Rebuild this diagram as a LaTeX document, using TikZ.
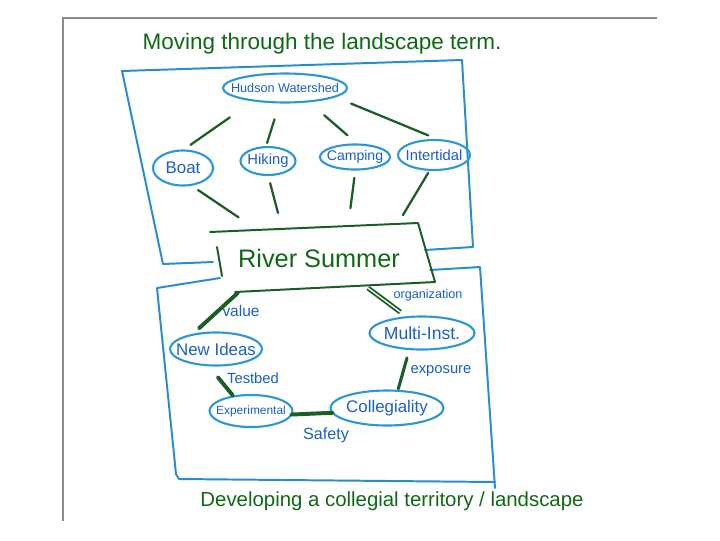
\documentclass[tikz,border=0pt]{standalone}
\usepackage{fontspec}
\setmainfont{Liberation Sans}
\usetikzlibrary{shapes.geometric,calc}
\definecolor{ellblue}{RGB}{45,150,215}
\definecolor{txtblue}{RGB}{25,95,200}
\definecolor{boxblue}{RGB}{40,140,210}
\definecolor{pgreen}{RGB}{25,95,35}
\definecolor{tgreen}{RGB}{15,105,20}
\definecolor{framegray}{RGB}{140,140,140}
\newcommand{\myfs}[1]{\fontsize{#1}{#1}\selectfont}
\begin{document}
\begin{tikzpicture}[x=0.025cm,y=-0.025cm,
 ell/.style={ellipse, draw=ellblue, line width=1.5pt, inner sep=0pt, outer sep=0pt},
 etxt/.style={text=txtblue, inner sep=0pt},
 conn/.style={draw=pgreen, line width=1.6pt, line cap=round},
 heavy/.style={conn, line width=2.8pt},
 dbl/.style={draw=pgreen, line width=1.3pt, double=white, double distance=0.9pt},
 lbl/.style={text=txtblue, inner sep=0pt},
 bbox/.style={draw=boxblue, line width=1.4pt, line join=round, line cap=round},
 gbox/.style={draw=pgreen, line width=1.4pt, line join=round, line cap=round},
 gtxt/.style={text=tgreen, inner sep=0pt}
]
\useasboundingbox (0,0) rectangle (720,540);
% frame
\draw[framegray, line width=0.8pt] (63,521) -- (63,18) -- (657,18);

% titles
\node[gtxt, font=\myfs{16}] (title) at (322,44) {Moving through the landscape term.};
\node[gtxt, font=\myfs{14.5}] (foot) at (392,501) {Developing a collegial territory / landscape};

% blue territory boxes
\draw[bbox] (213,262) -- (163,264) -- (122,71) -- (462,60) -- (473,247) -- (425,250);
\draw[bbox] (220,278) -- (157,288) -- (176,474) -- (179,479) -- (495,482);
\draw[bbox] (430,270) -- (480,267) -- (495,488);

% River Summer box
\coordinate (rsTL) at (210,232);
\coordinate (rsTR) at (418,223);
\coordinate (rsBR) at (435,282);
\coordinate (rsBL) at (235,292);
\coordinate (rsL1) at (217,247);
\coordinate (rsL2) at (222,276);
\draw[gbox] (rsTL) -- (rsTR) -- (rsBR) -- (rsBL);
\draw[gbox] (rsL1) -- (rsL2);
\node[gtxt, font=\myfs{18}] (rs) at (319,258) {River Summer};

% upper ellipses
\node[ell, minimum width=88.2pt, minimum height=20.6pt,
  label={[etxt,font=\myfs{9}]center:Hudson Watershed}] (hud) at (285,88) {};
\node[ell, minimum width=42.7pt, minimum height=24.9pt,
  label={[etxt,font=\myfs{12}]center:Boat}] (boat) at (183,168) {};
\node[ell, minimum width=39.1pt, minimum height=19.9pt,
  label={[etxt,font=\myfs{10.5}]center:Hiking}] (hik) at (268,161) {};
\node[ell, minimum width=49.8pt, minimum height=17.8pt,
  label={[etxt,font=\myfs{10}]center:Camping}] (camp) at (355,157) {};
\node[ell, minimum width=51.2pt, minimum height=21.3pt,
  label={[etxt,font=\myfs{10.5}]center:Intertidal}] (inter) at (434,155) {};

% lower ellipses
\node[ell, minimum width=65.4pt, minimum height=23.5pt,
  label={[etxt,font=\myfs{12}]center:New Ideas}] (ni) at (216,349) {};
\node[ell, minimum width=74.7pt, minimum height=23.5pt,
  label={[etxt,font=\myfs{12.5}]center:Multi-Inst.}] (mi) at (422,333) {};
\node[ell, minimum width=59pt, minimum height=22.8pt,
  label={[etxt,font=\myfs{8.5}]center:Experimental}] (ex) at (251,411) {};
\node[ell, minimum width=80.4pt, minimum height=24.9pt,
  label={[etxt,font=\myfs{12}]center:Collegiality}] (col) at (387,408) {};

% upper connectors
\draw[conn, shorten <=20.9pt, shorten >=7pt] (hud.202) -- (boat.92);
\draw[conn, shorten <=12.6pt, shorten >=3pt] (hud.250) -- (hik.99);
\draw[conn, shorten <=15pt, shorten >=10pt] (hud.330) -- (camp.76);
\draw[conn, shorten <=12.8pt, shorten >=9pt] (hud.350) -- (inter.68);

\draw[conn, shorten <=6.5pt, shorten >=16pt] (boat.294) -- ($(rsTL)!0.227!(rsTR)$);
\draw[conn, shorten <=6pt, shorten >=11.7pt] (hik.270) -- ($(rsTL)!0.347!(rsTR)$);
\draw[conn, shorten <=6pt, shorten >=12.8pt] (camp.272) -- ($(rsTL)!0.664!(rsTR)$);
\draw[conn, shorten <=2.5pt, shorten >=7.3pt] (inter.255) -- ($(rsTL)!0.902!(rsTR)$);

% lower connectors
\draw[heavy, shorten <=1pt, shorten >=7pt] ($(rsBL)!0.02!(rsBR)$) -- (ni.150);
\draw[dbl, shorten <=3pt, shorten >=6pt] ($(rsBL)!0.648!(rsBR)$) -- (mi.133);
\draw[heavy, shorten <=11pt, shorten >=1pt] (ni.244) -- (ex.140);
\draw[conn, line width=2.2pt, shorten <=6.6pt, shorten >=1.5pt] (mi.232) -- (col.58);
\draw[heavy] (ex.355) -- (col.185);

% connector labels
\node[lbl, font=\myfs{11}] (lvalue) at (241,311) {value};
\node[lbl, font=\myfs{9}] (lorg) at (428,295) {organization};
\node[lbl, font=\myfs{10.5}] (ltest) at (253,378) {Testbed};
\node[lbl, font=\myfs{10.5}] (lexpo) at (441,371) {exposure};
\node[lbl, font=\myfs{11.5}] (lsafe) at (326,435) {Safety};
\end{tikzpicture}
\end{document}
